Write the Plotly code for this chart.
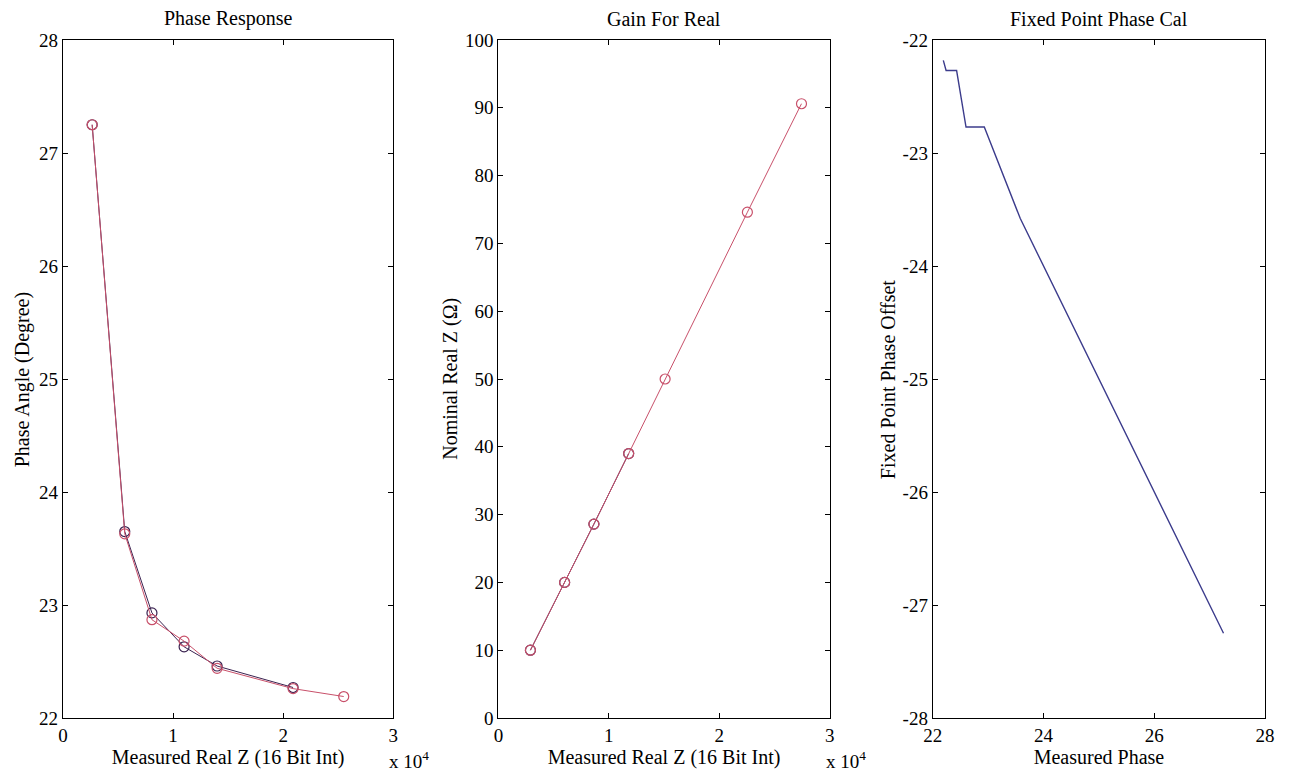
import plotly.graph_objects as go

# Panel 1: Phase Response (x in units of 1e4)
p1_red_x = [0.265, 0.561, 0.808, 1.10, 1.40, 2.09, 2.55]
p1_red_y = [27.25, 23.63, 22.87, 22.68, 22.44, 22.26, 22.19]
p1_dark_x = [0.265, 0.561, 0.808, 1.10, 1.40, 2.09]
p1_dark_y = [27.25, 23.65, 22.93, 22.63, 22.46, 22.27]

# Panel 2: Gain For Real
p2_red_x = [0.29, 0.60, 0.865, 1.18, 1.51, 2.255, 2.745]
p2_red_y = [10.0, 20.0, 28.6, 39.0, 50.0, 74.6, 90.6]
p2_dark_x = [0.29, 0.60, 0.865, 1.18]
p2_dark_y = [10.0, 20.0, 28.6, 39.0]

# Panel 3: Fixed Point Phase Cal
p3_x = [22.19, 22.24, 22.43, 22.60, 22.93, 23.58, 27.25]
p3_y = [-22.18, -22.27, -22.27, -22.77, -22.77, -23.58, -27.25]
p3_yticks = [-28, -27, -26, -25, -24, -23, -22]
p3_yticklabels = ["-28", "-27", "-26", "-25", "-24", "-23", "-22"]

titles = ["Phase Response", "Gain For Real", "Fixed Point Phase Cal"]
x_titles = ["Measured Real Z (16 Bit Int)", "Measured Real Z (16 Bit Int)", "Measured Phase"]
y_titles = ["Phase Angle (Degree)", "Nominal Real Z (Ω)", "Fixed Point Phase Offset"]

RED = "#c8506a"
DARK = "#3a2250"
BLUE = "#3c3c8c"
FONT = "Liberation Serif"

W, H = 1275, 768
ML, MR, MT, MB = 55, 2, 32, 58
PW = W - ML - MR
# panel pixel spans (page coordinates) -> paper domains
panel_px = [(63, 396), (502, 836), (940, 1275)]
domains = [[(a - 8 - ML) / PW, (b - 8 - ML) / PW] for a, b in panel_px]

fig = go.Figure()

def add_pair(xr, yr, xd, yd, xa, ya):
    fig.add_trace(go.Scatter(x=xd, y=yd, mode="lines+markers", xaxis=xa, yaxis=ya,
                             line=dict(color=DARK, width=1),
                             marker=dict(symbol="circle-open", size=10, color=DARK, line=dict(width=1.2)),
                             showlegend=False))
    fig.add_trace(go.Scatter(x=xr, y=yr, mode="lines+markers", xaxis=xa, yaxis=ya,
                             line=dict(color=RED, width=1),
                             marker=dict(symbol="circle-open", size=10, color=RED, line=dict(width=1.2)),
                             showlegend=False))

add_pair(p1_red_x, p1_red_y, p1_dark_x, p1_dark_y, "x", "y")
add_pair(p2_red_x, p2_red_y, p2_dark_x, p2_dark_y, "x2", "y2")
fig.add_trace(go.Scatter(x=p3_x, y=p3_y, mode="lines", xaxis="x3", yaxis="y3",
                         line=dict(color=BLUE, width=1.4), showlegend=False))

ax_common = dict(showline=True, linecolor="black", linewidth=1.2, mirror="ticks",
                 ticks="inside", ticklen=5, tickcolor="black", showgrid=False, zeroline=False,
                 ticklabeloverflow="allow",
                 tickfont=dict(family=FONT, size=19, color="black"),
                 title_font=dict(family=FONT, size=20, color="black"))

fig.update_layout(
    width=W, height=H,
    margin=dict(l=ML, r=MR, t=MT, b=MB),
    paper_bgcolor="white", plot_bgcolor="white",
    font=dict(family=FONT, color="black"),
    xaxis=dict(domain=domains[0], range=[0, 3], dtick=1, anchor="y",
               title=dict(text=x_titles[0], standoff=0), **ax_common),
    yaxis=dict(domain=[0, 1], range=[22, 28], dtick=1, anchor="x", **ax_common),
    xaxis2=dict(domain=domains[1], range=[0, 3], dtick=1, anchor="y2",
                title=dict(text=x_titles[1], standoff=0), **ax_common),
    yaxis2=dict(domain=[0, 1], range=[0, 100], dtick=10, anchor="x2", **ax_common),
    xaxis3=dict(domain=domains[2], range=[22, 28], dtick=2, anchor="y3",
                title=dict(text=x_titles[2], standoff=0), **ax_common),
    yaxis3=dict(domain=[0, 1], range=[-28, -22], tickvals=p3_yticks, ticktext=p3_yticklabels,
                anchor="x3", **ax_common),
)

for t, d in zip(titles, domains):
    fig.add_annotation(text=t, x=(d[0] + d[1]) / 2, y=1, xref="paper", yref="paper",
                       xanchor="center", yanchor="bottom", yshift=8, showarrow=False,
                       font=dict(family=FONT, size=20, color="black"))

# y-axis titles, placed by page pixel position of their centres
y_title_px = [22, 453, 895]
for t, px in zip(y_titles, y_title_px):
    fig.add_annotation(text=t, x=(px - 8 - ML) / PW, y=0.5, xref="paper", yref="paper",
                       xanchor="center", yanchor="middle", textangle=-90, showarrow=False,
                       font=dict(family=FONT, size=20, color="black"))

for d in domains[:2]:
    fig.add_annotation(text="x 10<sup>4</sup>", x=d[1], y=0, xref="paper", yref="paper",
                       xanchor="left", yanchor="bottom", xshift=-6, yshift=-56, showarrow=False,
                       font=dict(family=FONT, size=19, color="black"))

fig.write_html("out.html")
